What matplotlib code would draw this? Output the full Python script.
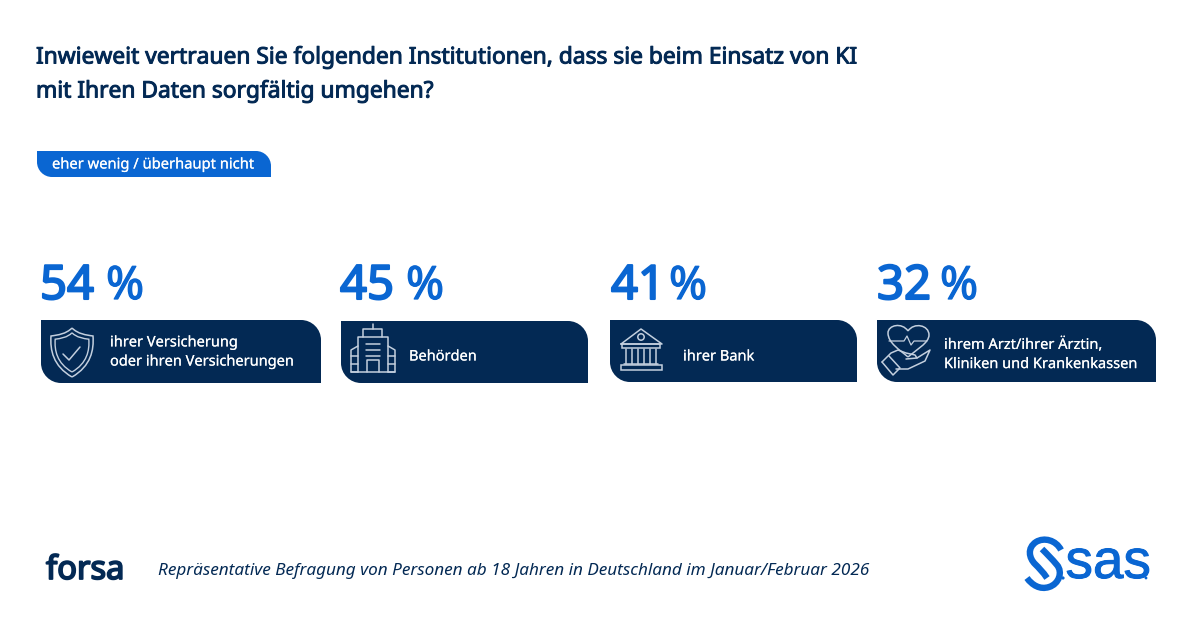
import matplotlib
matplotlib.use("Agg")
import matplotlib.pyplot as plt
import matplotlib.patheffects as pe
import numpy as np
from matplotlib.path import Path
from matplotlib.patches import PathPatch, Rectangle, Circle

title_lines = ["Inwieweit vertrauen Sie folgenden Institutionen, dass sie beim Einsatz von KI",
               "mit Ihren Daten sorgfältig umgehen?"]
tag_label = "eher wenig / überhaupt nicht"
percent_values = [54, 45, 41, 32]
institutions = ["ihrer Versicherung\noder ihren Versicherungen", "Behörden", "ihrer Bank",
                "ihrem Arzt/ihrer Ärztin,\nKliniken und Krankenkassen"]
footnote = "Repräsentative Befragung von Personen ab 18 Jahren in Deutschland im Januar/Februar 2026"

NAVY = "#032954"
BLUE = "#0a66d2"
ICON = "#c3cfde"
FONT = "Noto Sans"

fig = plt.figure(figsize=(12, 6.28), dpi=100, facecolor="white")
ax = fig.add_axes([0, 0, 1, 1])
ax.set_xlim(0, 1200)
ax.set_ylim(628, 0)
ax.axis("off")


def heavy(width, color):
    return [pe.withStroke(linewidth=width, foreground=color)]


def card(x0, y0, x1, y1, r, color):
    k = 0.45 * r
    verts = [(x0, y0), (x1 - r, y0), (x1 - k, y0), (x1, y0 + k), (x1, y0 + r), (x1, y1),
             (x0 + r, y1), (x0 + k, y1), (x0, y1 - k), (x0, y1 - r), (x0, y0), (x0, y0)]
    codes = [Path.MOVETO, Path.LINETO, Path.CURVE4, Path.CURVE4, Path.CURVE4, Path.LINETO,
             Path.LINETO, Path.CURVE4, Path.CURVE4, Path.CURVE4, Path.LINETO, Path.CLOSEPOLY]
    ax.add_patch(PathPatch(Path(verts, codes), fc=color, ec="none"))


def line(pts, lw=1.1, color=ICON):
    p = np.array(pts, float)
    ax.plot(p[:, 0], p[:, 1], color=color, lw=lw, solid_capstyle="round", solid_joinstyle="round")


def smooth(pts, lw=1.1, color=ICON):
    codes = [Path.MOVETO] + [Path.CURVE4] * (len(pts) - 1)
    ax.add_patch(PathPatch(Path(pts, codes), fc="none", ec=color, lw=lw, capstyle="butt"))


def shield():
    for s, lw in ((1.0, 1.1), (0.8, 1.0)):
        cx, cy = 72, 352
        f = lambda x, y: (cx + (x - cx) * s, cy + (y - cy) * s)
        smooth([f(72, 328), f(78, 334), f(86, 335), f(93, 336), f(94, 350), f(91, 366), f(72, 377)], lw)
        smooth([f(72, 328), f(66, 334), f(58, 335), f(51, 336), f(50, 350), f(53, 366), f(72, 377)], lw)
    line([(63, 354), (69, 360), (80, 347)])


def building():
    line([(373, 324), (373, 329)])
    line([(363, 337), (363, 329), (382, 329), (382, 337)])
    line([(358, 372), (358, 337), (388, 337), (388, 372)])
    line([(358, 346), (351, 350), (351, 372), (358, 372)])
    line([(388, 346), (395, 350), (395, 372), (388, 372)])
    line([(351, 372), (395, 372)])
    for y in (344, 350, 356):
        line([(366, y), (380, y)])
    line([(367, 372), (367, 360), (379, 360), (379, 372)])
    for y in (356, 364):
        line([(351, y), (358, y)])
        line([(388, y), (395, y)])


def bank():
    line([(621, 344), (641, 329), (662, 344), (621, 344)])
    ax.add_patch(Circle((641, 337), 3.2, fc="none", ec=ICON, lw=1.1))
    ax.add_patch(Rectangle((622, 344), 38, 4, fc="none", ec=ICON, lw=1.1))
    ax.add_patch(Rectangle((621, 365), 41, 5, fc="none", ec=ICON, lw=1.1))
    for x in (626, 632, 638, 644, 650, 656):
        line([(x, 349), (x, 364)])
    line([(624, 364), (658, 364)])


def care():
    smooth([(908, 357), (900, 350), (888, 343), (888, 333),
            (888, 325), (902, 322), (908, 331)])
    smooth([(908, 331), (914, 322), (929, 325), (929, 335),
            (929, 343), (916, 350), (908, 357)])
    line([(889, 341), (904, 341), (907, 336), (911, 345), (914, 341), (927, 341)], lw=0.9)
    line([(882, 362), (891, 353), (898, 350), (906, 353), (915, 355), (917, 358), (906, 359)])
    line([(917, 358), (930, 350), (925, 361), (908, 369), (896, 369)])
    line([(882, 362), (893, 375), (900, 368), (889, 356)])


def sas_logo():
    smooth([(1061, 550), (1056, 540), (1044, 537), (1036, 542),
            (1027, 548), (1029, 558), (1035, 564),
            (1039, 568), (1043, 572), (1047, 578)], lw=4.6, color=BLUE)
    smooth([(1042, 549), (1047, 554), (1052, 559), (1057, 565),
            (1063, 572), (1059, 584), (1049, 587),
            (1040, 590), (1032, 585), (1027, 578)], lw=4.6, color=BLUE)
    ax.text(1065.5, 578, "sas", family="Liberation Sans", fontsize=39.5, color=BLUE, ha="left",
            va="baseline", path_effects=heavy(0.7, BLUE))
    ax.add_patch(Circle((1063, 578), 1.6, fc=BLUE, ec="none"))
    ax.add_patch(Circle((1146, 578), 1.4, fc=BLUE, ec="none"))


# Title
for text_line, base in zip(title_lines, (63.5, 97.5)):
    ax.text(36, base, text_line, family=FONT, fontsize=16.4, color=NAVY, va="baseline",
            path_effects=heavy(0.7, NAVY))

# Tag
card(37, 151, 271, 177, 15, BLUE)
ax.text(52, 168.5, tag_label, family=FONT, fontsize=10.6, color="white", va="baseline",
        path_effects=heavy(0.1, "white"))

# Cards
card_x = [(41, 321), (341, 588), (610, 857), (877, 1156)]
card_y = [(320, 383), (321, 383), (320, 382), (320, 382)]
num_x = [40, 340, 611, 877]
pct_x = [106, 406, 669, 940]
text_x = [110, 409, 683, 944]
text_y = [352.5, 357, 357, 355]
for v, name, (x0, x1), (y0, y1), nx, px, tx, ty in zip(percent_values, institutions, card_x, card_y,
                                                       num_x, pct_x, text_x, text_y):
    ax.text(nx, 299, f"{v}", family=FONT, fontsize=34, color=BLUE, va="baseline",
            path_effects=heavy(1.5, BLUE))
    ax.text(px, 299, "%", family=FONT, fontsize=33, color=BLUE, va="baseline",
            path_effects=heavy(0.9, BLUE))
    card(x0, y0, x1, y1, 20, NAVY)
    ax.text(tx, ty, name, family=FONT, fontsize=10.5, color="white", va="center",
            linespacing=1.38, path_effects=heavy(0.1, "white"))

shield()
building()
bank()
care()

# Footer
ax.text(46, 579, "forsa", family=FONT, fontsize=23.5, color=NAVY, va="baseline",
        path_effects=heavy(1.3, NAVY))
ax.text(158, 575, footnote, family=FONT, fontsize=12.35, style="italic", color=NAVY, va="baseline")
sas_logo()

fig.savefig("out.png", dpi=100, facecolor="white")
